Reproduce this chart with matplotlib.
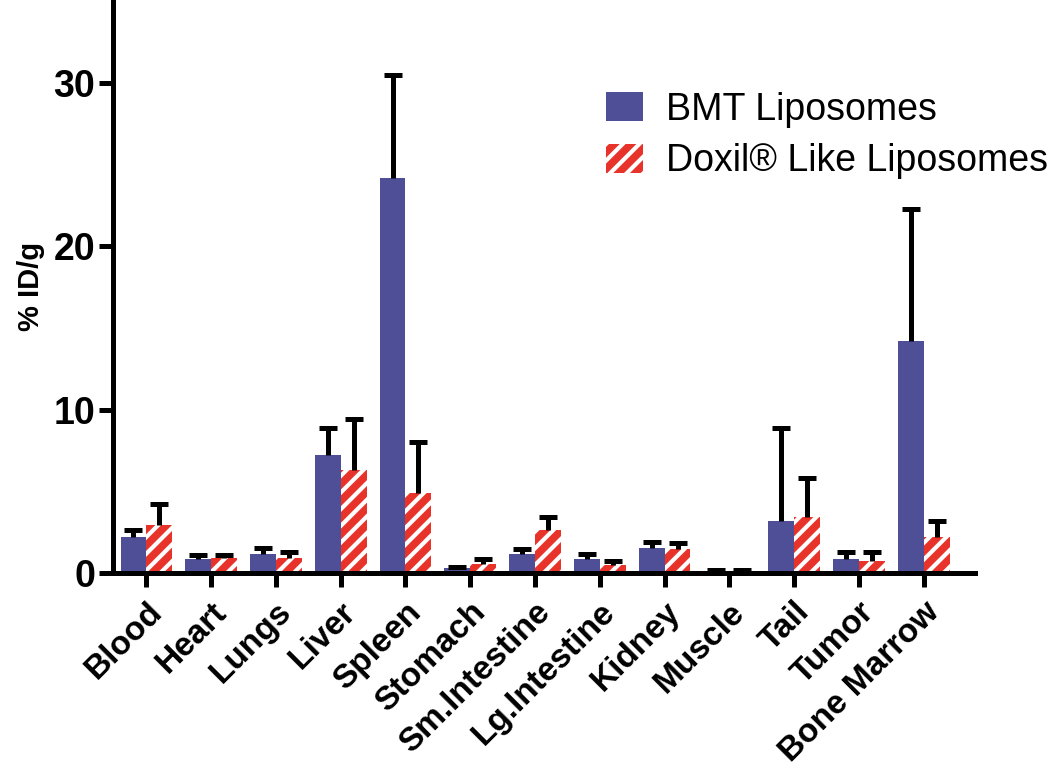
import matplotlib
matplotlib.use("Agg")
import matplotlib.pyplot as plt
import numpy as np
from matplotlib.patches import Patch

plt.rcParams["font.family"] = ["Liberation Sans", "DejaVu Sans"]
plt.rcParams["hatch.linewidth"] = 3.0

organs = ["Blood", "Heart", "Lungs", "Liver", "Spleen", "Stomach", "Sm.Intestine",
          "Lg.Intestine", "Kidney", "Muscle", "Tail", "Tumor", "Bone Marrow"]
bmt_mean = [2.2, 0.85, 1.15, 7.2, 24.2, 0.3, 1.15, 0.85, 1.55, 0.1, 3.2, 0.85, 14.2]
bmt_err = [0.4, 0.25, 0.35, 1.7, 6.3, 0.05, 0.3, 0.3, 0.35, 0.05, 5.7, 0.45, 8.1]
doxil_mean = [2.9, 0.9, 0.9, 6.3, 4.9, 0.55, 2.6, 0.5, 1.45, 0.1, 3.4, 0.75, 2.2]
doxil_err = [1.3, 0.2, 0.35, 3.1, 3.1, 0.3, 0.8, 0.2, 0.35, 0.05, 2.4, 0.55, 1.0]

BLUE = "#4e4f97"
RED = "#e8332b"

fig = plt.figure(figsize=(10.5, 7.72), dpi=100)
ax = fig.add_axes([0.108, 0.258, 0.821, 0.742])

x = np.arange(len(organs))
w = 0.4
ekw = dict(elinewidth=3.6, capthick=3.6, ecolor="black")
zeros = np.zeros(len(x))
b1 = ax.bar(x - w / 2, bmt_mean, w, color=BLUE, linewidth=0,
            yerr=[zeros, bmt_err], capsize=6.5, error_kw=ekw)
b2 = ax.bar(x + w / 2, doxil_mean, w, color=RED, edgecolor="white", linewidth=0,
            hatch="//", yerr=[zeros, doxil_err], capsize=6.5, error_kw=ekw)
# only upper error bars: hide the lower caps
for cont in (b1, b2):
    caps = cont.errorbar.lines[1]
    caps[0].set_visible(False)

ax.set_xlim(-0.51, 12.8)
ax.set_ylim(0, 35.1)
ax.set_yticks([0, 10, 20, 30])
ax.set_xticks(x)
ax.set_xticklabels(organs, rotation=45, ha="right", rotation_mode="anchor",
                   fontsize=24, fontweight="bold")
for lab in ax.get_yticklabels():
    lab.set_fontsize(27)
    lab.set_fontweight("bold")
ax.tick_params(width=3.6, length=10, direction="out")
ax.tick_params(axis="x", pad=7)
ax.tick_params(axis="y", pad=3)
for s in ["top", "right"]:
    ax.spines[s].set_visible(False)
for s in ["left", "bottom"]:
    ax.spines[s].set_linewidth(3.6)
ax.set_ylabel("% ID/g", fontsize=21, fontweight="bold", labelpad=6)

handles = [Patch(facecolor=BLUE, linewidth=0),
           Patch(facecolor=RED, edgecolor="white", linewidth=0, hatch="//")]
ax.legend(handles, ["BMT Liposomes", "Doxil\u00ae Like Liposomes"], frameon=False,
          fontsize=27, loc="upper left", bbox_to_anchor=(0.571, 0.84),
          borderaxespad=0, borderpad=0,
          handlelength=1.0, handleheight=0.83, handletextpad=0.6, labelspacing=0.42)

fig.savefig("out.png", dpi=100)
